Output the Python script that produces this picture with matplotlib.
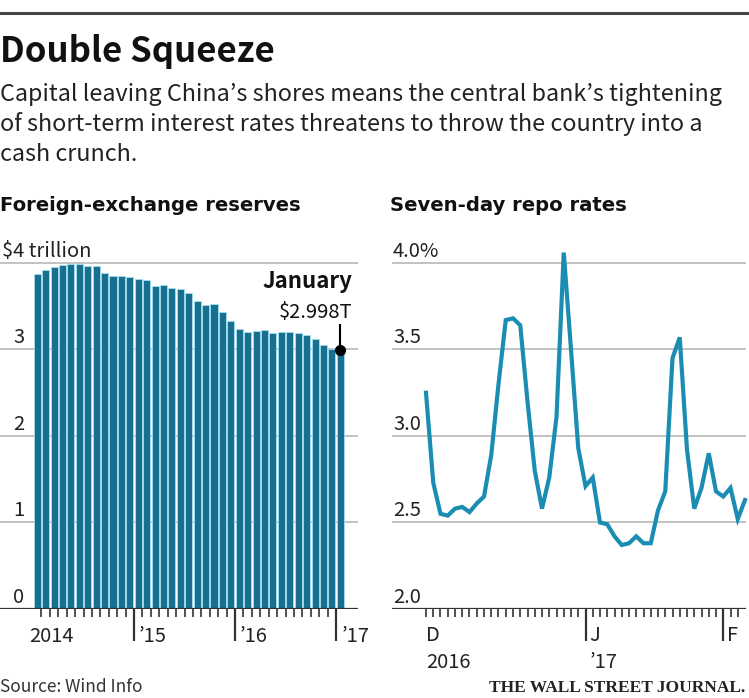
import matplotlib
matplotlib.use("Agg")
import matplotlib.pyplot as plt
import numpy as np

NARROW = ['Noto Sans CJK JP', 'DejaVu Sans']
WIDE = ['DejaVu Sans']
plt.rcParams['font.family'] = NARROW

# China foreign-exchange reserves, $ trillion, monthly Jan 2014 - Jan 2017
reserves = [3.867, 3.914, 3.948, 3.979, 3.984, 3.993, 3.966, 3.969, 3.888, 3.853, 3.847, 3.843,
            3.813, 3.802, 3.730, 3.748, 3.711, 3.694, 3.651, 3.557, 3.514, 3.525, 3.438, 3.330,
            3.231, 3.202, 3.213, 3.220, 3.192, 3.205, 3.201, 3.185, 3.166, 3.121, 3.052, 3.011,
            2.998]
res_year_labels = ['2014', '\u201915', '\u201916', '\u201917']
res_yticks = [0, 1, 2, 3, 4]
res_ytick_labels = ['0', '1', '2', '3', '$4 trillion']

# seven-day repo rate, %, trading days from early Dec 2016 to early Feb 2017
repo = [3.25, 2.73, 2.55, 2.54, 2.58, 2.59, 2.56, 2.61, 2.65, 2.89,
        3.30, 3.67, 3.68, 3.64, 3.20, 2.80, 2.58, 2.76, 3.11, 4.06,
        3.50, 2.93, 2.71, 2.76, 2.50, 2.49, 2.42, 2.37, 2.38, 2.42,
        2.38, 2.38, 2.57, 2.68, 3.45, 3.57, 2.92, 2.58, 2.70, 2.90,
        2.68, 2.65, 2.70, 2.52, 2.63]
repo_month_labels = ['D', 'J', 'F']
repo_year_labels = ['2016', '\u201917']
repo_month_pos = [0, 22, 41]
repo_yticks = [2.0, 2.5, 3.0, 3.5, 4.0]
repo_ytick_labels = ['2.0', '2.5', '3.0', '3.5', '4.0%']

W, H = 749, 698
fig = plt.figure(figsize=(W / 100, H / 100), dpi=100)
fig.patch.set_facecolor('white')


def fx(px):
    return px / W


def fy(py):
    return 1 - py / H


def px_axes(x0, x1, ytop, ybot):
    return fig.add_axes([fx(x0), fy(ybot), (x1 - x0) / W, (ybot - ytop) / H])


grid_c = '#b8b8b8'
dark = '#333333'
txt = '#222222'
tick_fs = 14.5

# header
fig.add_artist(plt.Line2D([0, 1], [fy(13), fy(13)], color='#444444', lw=2.2))
fig.text(0, fy(62), 'Double Squeeze', fontsize=25, fontweight='bold', va='baseline', color='#111111')
subtitle = ["Capital leaving China\u2019s shores means the central bank\u2019s tightening",
            "of short-term interest rates threatens to throw the country into a",
            "cash crunch."]
for i, line in enumerate(subtitle):
    fig.text(0, fy(101 + 30 * i), line, fontsize=16.8, va='baseline', color=txt)

fig.text(0, fy(211), 'Foreign-exchange reserves', fontsize=14.1, fontweight='bold',
         family=WIDE, va='baseline', color='#111111')
fig.text(fx(390), fy(211), 'Seven-day repo rates', fontsize=14.1, fontweight='bold',
         family=WIDE, va='baseline', color='#111111')

# ---- left: reserves bars
ax = px_axes(0, 358, 250, 609)
x = np.arange(len(reserves))
ax.set_xlim(-37.2 / 8.42, (358 - 37.2) / 8.42)
ax.set_ylim(0, 4.15)
for v in res_yticks[1:]:
    ax.axhline(v, color=grid_c, lw=1.2, zorder=1)
ax.bar(x, reserves, width=0.84, color='#17708f', edgecolor='#a6dff0', linewidth=0.6, zorder=2)
ax.axhline(0, color=dark, lw=1.6, zorder=3)

for v, lab in zip(res_yticks, res_ytick_labels):
    dx = 2 if lab.startswith('$') else 13
    ax.annotate(lab, xy=(0, v), xycoords=('axes fraction', 'data'), xytext=(dx, 6),
                textcoords='offset pixels', fontsize=tick_fs, va='baseline', ha='left', color=txt)

majors = [11.5, 23.5, 35.5]
minors = [i + 0.5 for i in range(35) if i + 0.5 not in majors]
ax.set_xticks(majors)
ax.set_xticks(minors, minor=True)
ax.tick_params(axis='x', which='major', length=23, width=1.6, color=dark, labelbottom=False)
ax.tick_params(axis='x', which='minor', length=6, width=1.2, color=dark)
ax.tick_params(axis='y', left=False, labelleft=False)
for s in ax.spines.values():
    s.set_visible(False)

year_pos = [-0.5] + majors
for pos, lab in zip(year_pos, res_year_labels):
    dx = -4 if lab == '2014' else 5
    ax.annotate(lab, xy=(pos, 0), xycoords='data', xytext=(dx, -33), textcoords='offset pixels',
                fontsize=tick_fs, va='baseline', ha='left', color=txt)

# January callout
last = len(reserves) - 1
ax.plot([last, last], [reserves[-1], reserves[-1] + 0.28], color='black', lw=1.5, zorder=4)
ax.plot([last], [reserves[-1]], 'o', color='black', markersize=7, zorder=5)
ax.text(37.4, 3.71, 'January', fontsize=16, fontweight='bold', ha='right', va='baseline',
        color='#111111')
ax.text(37.4, 3.36, '$%.3fT' % reserves[-1], fontsize=tick_fs, ha='right', va='baseline',
        color='#111111')

# ---- right: repo rate line
ax2 = px_axes(392, 746, 250, 609)
d = np.arange(len(repo))
ax2.set_xlim(-34 / 7.25, 320 / 7.25)
ax2.set_ylim(2.0, 4.075)
for v in repo_yticks[1:]:
    ax2.axhline(v, color=grid_c, lw=1.2, zorder=1)
ax2.axhline(2.0, color=dark, lw=1.6, zorder=3)
ax2.plot(d, repo, color='#1b8db3', lw=3.0, solid_joinstyle='miter', zorder=4, clip_on=False)

for v, lab in zip(repo_yticks, repo_ytick_labels):
    ax2.annotate(lab, xy=(0, v), xycoords=('axes fraction', 'data'), xytext=(1, 6),
                 textcoords='offset pixels', fontsize=tick_fs, va='baseline', ha='left', color=txt)

r_majors = repo_month_pos[1:]
r_minors = [i for i in range(44) if i not in r_majors]
ax2.set_xticks(r_majors)
ax2.set_xticks(r_minors, minor=True)
ax2.tick_params(axis='x', which='major', length=23, width=1.6, color=dark, labelbottom=False)
ax2.tick_params(axis='x', which='minor', length=6, width=1.2, color=dark)
ax2.tick_params(axis='y', left=False, labelleft=False)
for s in ax2.spines.values():
    s.set_visible(False)

for pos, lab in zip(repo_month_pos, repo_month_labels):
    dx = 0 if pos == 0 else 4
    ax2.annotate(lab, xy=(pos, 2.0), xycoords='data', xytext=(dx, -32), textcoords='offset pixels',
                 fontsize=tick_fs, va='baseline', ha='left', color=txt)
for pos, lab in zip(repo_month_pos[:2], repo_year_labels):
    dx = 0 if pos == 0 else 4
    ax2.annotate(lab, xy=(pos, 2.0), xycoords='data', xytext=(dx, -59), textcoords='offset pixels',
                 fontsize=tick_fs, va='baseline', ha='left', color=txt)

# footer
fig.text(0, fy(692), 'Source: Wind Info', fontsize=12.5, va='baseline', color='#333333')
fig.text(fx(745), fy(692), 'THE WALL STREET JOURNAL.', fontsize=12.5, fontweight='bold',
         family=['Liberation Serif', 'DejaVu Serif'], ha='right', va='baseline', color='#222222')

fig.savefig('out.png', dpi=100, facecolor='white')
